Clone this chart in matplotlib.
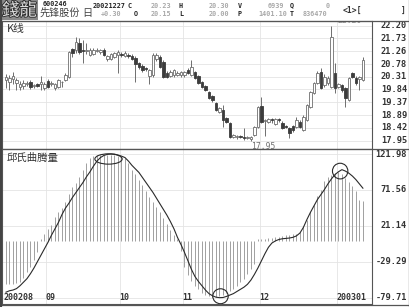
import matplotlib
matplotlib.use('Agg')
import matplotlib.pyplot as plt
from matplotlib.patches import Ellipse, Rectangle
from matplotlib.lines import Line2D
import matplotlib.patheffects as pe
import numpy as np

# ---------------- data ----------------
opens = [20.19, 20.12, 20.23, 20.08, 19.93, 19.97, 20.06, 20.11, 19.97, 20.04,
         20.04, 19.89, 20.15, 20.06, 19.89, 19.93, 20.11, 20.19, 20.30, 21.33,
         21.30, 21.56, 21.30, 21.26, 21.11, 21.15, 21.28, 21.22, 21.30, 20.97,
         20.97, 21.04, 21.11, 21.15, 21.07, 21.11, 21.07, 21.00, 20.82, 20.71,
         20.63, 20.34, 20.37, 20.97, 21.04, 20.86, 20.45, 20.34, 20.37, 20.37,
         20.37, 20.37, 20.56, 20.37, 20.48, 20.34, 20.11, 19.97, 19.75, 19.60,
         19.34, 19.01, 19.08, 18.79, 18.60, 18.09, 18.09, 18.12, 18.09, 18.05,
         18.02, 18.16, 18.46, 19.23, 18.68, 18.64, 18.75, 18.57, 18.75, 18.60,
         18.49, 18.42, 18.49, 18.46, 18.64, 18.34, 18.71, 19.20, 19.71, 20.08,
         20.48, 20.00, 20.08, 19.93, 20.45, 19.93, 20.00, 19.89, 19.45, 20.45,
         20.26, 20.23, 20.19]
highs = [20.41, 20.37, 20.48, 20.26, 20.15, 20.19, 20.15, 20.19, 20.04, 20.08,
         20.34, 20.11, 20.22, 20.15, 20.08, 20.22, 20.15, 20.45, 21.26, 21.37,
         21.78, 21.74, 21.67, 21.56, 21.37, 21.37, 21.37, 21.33, 21.37, 21.11,
         21.19, 21.22, 21.30, 21.22, 21.26, 21.19, 21.15, 21.07, 20.86, 20.78,
         20.67, 20.60, 21.19, 21.19, 21.11, 20.93, 20.52, 20.56, 20.60, 20.52,
         20.52, 20.52, 20.63, 20.93, 20.52, 20.37, 20.15, 20.00, 19.79, 19.64,
         19.38, 19.20, 19.27, 18.82, 18.64, 18.20, 18.16, 18.16, 18.42, 18.12,
         18.12, 18.49, 19.24, 19.56, 18.75, 18.79, 18.79, 18.79, 18.79, 18.68,
         18.53, 18.46, 18.53, 18.82, 18.71, 18.90, 19.31, 19.79, 20.11, 20.52,
         20.63, 20.41, 20.34, 22.20, 20.82, 20.08, 20.04, 19.93, 20.30, 20.48,
         20.34, 20.34, 21.04]
lows = [19.89, 19.82, 20.04, 19.82, 19.82, 19.86, 19.97, 19.86, 19.89, 19.93,
        19.82, 19.82, 19.89, 19.97, 19.82, 19.89, 19.93, 20.15, 20.26, 21.04,
        21.19, 21.15, 20.82, 21.15, 21.07, 21.11, 21.22, 21.15, 21.07, 20.90,
        20.93, 21.00, 20.45, 21.04, 21.04, 21.00, 20.93, 20.11, 20.60, 20.48,
        20.52, 20.04, 20.30, 20.90, 20.63, 20.26, 20.26, 20.30, 20.30, 20.34,
        20.30, 20.30, 20.41, 20.34, 20.22, 20.04, 19.89, 19.79, 19.49, 19.38,
        19.05, 18.97, 18.46, 18.60, 18.05, 18.05, 18.02, 18.05, 17.98, 18.00,
        17.95, 18.12, 18.42, 18.60, 18.12, 18.60, 18.60, 18.53, 18.64, 18.38,
        18.42, 18.05, 18.27, 18.42, 18.42, 18.30, 18.68, 19.16, 19.68, 20.04,
        19.86, 19.93, 20.00, 19.89, 19.71, 19.89, 19.75, 19.20, 19.42, 20.26,
        20.00, 19.82, 20.15]
closes = [20.30, 20.26, 20.34, 20.19, 20.04, 20.08, 20.08, 19.93, 20.00, 19.97,
          20.11, 20.04, 19.93, 20.08, 20.04, 20.19, 20.13, 20.37, 21.22, 21.19,
          21.59, 21.22, 21.26, 21.30, 21.30, 21.30, 21.30, 21.30, 21.11, 21.07,
          21.15, 21.19, 21.22, 21.11, 21.19, 21.07, 20.97, 20.78, 20.67, 20.56,
          20.58, 20.56, 21.11, 21.11, 20.67, 20.30, 20.30, 20.48, 20.56, 20.45,
          20.48, 20.48, 20.45, 20.67, 20.26, 20.08, 19.93, 19.82, 19.53, 19.45,
          19.08, 19.16, 18.71, 18.64, 18.09, 18.16, 18.12, 18.09, 18.05, 18.07,
          18.09, 18.46, 19.20, 18.64, 18.71, 18.75, 18.71, 18.75, 18.71, 18.42,
          18.46, 18.23, 18.34, 18.71, 18.46, 18.82, 19.27, 19.75, 20.08, 20.45,
          19.89, 20.30, 20.26, 21.78, 19.89, 20.04, 19.82, 19.53, 20.26, 20.30,
          20.08, 20.30, 20.93]

hist = [-60, -60, -60, -59, -58, -52, -44, -36, -27, -15,
        3, 10, 16, 23, 33, 40, 46, 55, 66, 75,
        81, 89, 100, 110, 117, 119, 120, 121, 121, 121,
        121, 120, 119, 118, 116, 110, 100, 94, 86, 78,
        70, 62, 55, 48, 40, 32, 24, 15, 8, 2,
        -14, -36, -48, -56, -63, -68, -73, -76, -78, -79,
        -79, -78, -76, -73, -70, -67, -63, -58, -53, -46,
        -39, -32, 2, 3, 3, 4, 4, 5, 6, 7,
        8, 8, 9, 10, 13, 21, 30, 41, 51, 63,
        71, 84, 90, 93, 95, 97, 94, 88, 82, 77,
        70, 58, 56]
curve = [-72, -70, -69, -67, -63, -58, -53, -46, -38, -29,
         -20, -11, -2, 8, 17, 26, 37, 46, 53, 61,
         68, 75, 82, 90, 97, 105, 112, 117, 120, 121.5,
         121.98, 121.8, 120.5, 119, 117, 112, 106, 101, 96, 89,
         82, 75, 68, 60, 52, 44, 36, 27, 17, 5,
         -5, -16, -28, -40, -50, -57, -63, -69, -74, -77,
         -79, -79.71, -79.5, -78, -76, -74, -71, -68, -65, -61,
         -55, -47, -38, -28, -18, -9, -3, 0, 2, 3,
         3.5, 4, 5, 7, 11, 19, 30, 40, 49, 58,
         65, 72, 80, 87, 93, 97, 100, 98, 95, 91,
         86, 80, 74]

price_ticks = ['22.20', '21.73', '21.26', '20.78', '20.31', '19.84', '19.37', '18.89', '18.42', '17.95']
ind_ticks = ['121.98', '71.56', '21.14', '-29.29', '-79.71']
month_labels = ['200208', '09', '10', '11', '12', '200301']
month_starts = [0, 12, 33, 51, 73, 95]

# ---------------- figure ----------------
W, H = 410, 307
fig = plt.figure(figsize=(W / 100, H / 100), dpi=100)
fig.patch.set_facecolor('white')


def fx(x):
    return x / W


def fy(y):
    return 1 - y / H


CJK_SC = ['Noto Sans CJK SC', 'DejaVu Sans']
CJK_TC = ['Noto Sans CJK TC', 'DejaVu Sans']
MONO = 'DejaVu Sans Mono'
GRID = '#e4e4e4'
FRAME = '#555555'

ax1 = fig.add_axes([fx(2), fy(149), (372 - 2) / W, (149 - 20.5) / H])
ax2 = fig.add_axes([fx(2), fy(304), (372 - 2) / W, (304 - 149) / H])

n = len(opens)
idx = np.arange(n)
xlim = (-1.14, 104.6)

for ax in (ax1, ax2):
    ax.set_xlim(*xlim)
    ax.set_xticks([])
    ax.set_yticks([])
    for s in ax.spines.values():
        s.set_color(FRAME)
        s.set_linewidth(0.8)
    for m in month_starts[1:]:
        ax.axvline(m - 0.5, color=GRID, lw=0.6, zorder=0)

# ---- top: candlesticks ----
o = np.array(opens); h = np.array(highs); l = np.array(lows); c = np.array(closes)
up = c >= o
ax1.vlines(idx, l, h, color='#6e6e6e', lw=0.7, zorder=2)
body_h = np.where(np.abs(c - o) < 0.01, 0.012, np.abs(c - o))
body_b = np.minimum(o, c)
ax1.bar(idx[up], body_h[up], bottom=body_b[up], width=0.72,
        facecolor='white', edgecolor='#6e6e6e', lw=0.6, zorder=3)
ax1.bar(idx[~up], body_h[~up], bottom=body_b[~up], width=0.72,
        facecolor='#3c3c3c', edgecolor='#3c3c3c', lw=0.6, zorder=3)
ax1.set_ylim(17.64, 22.39)
pvals = [float(t) for t in price_ticks]
for v in pvals:
    ax1.axhline(v, color=GRID, lw=0.6, zorder=0)
ytr1 = ax1.get_yaxis_transform()
for v, t in zip(pvals, price_ticks):
    ax1.text(1.0946, v, t, transform=ytr1, ha='right', va='center',
             fontsize=6.2, fontweight='bold', family=MONO, color='#333333', clip_on=False)

imax = int(np.argmax(h)); imin = int(np.argmin(l))
ax1.annotate(f'{h[imax]:.2f}', xy=(imax, h[imax]), xytext=(4.5, 0.5), textcoords='offset points',
             ha='left', va='bottom', fontsize=5.8, family=MONO, color='#8a8a8a',
             annotation_clip=False, clip_on=True)
ax1.annotate(f'{l[imin]:.2f}', xy=(imin, l[imin]), xytext=(0, -1), textcoords='offset points',
             ha='left', va='top', fontsize=5.8, family=MONO, color='#707070')
ax1.text(0.012, 0.93, 'K线', transform=ax1.transAxes, ha='left', va='center',
         fontsize=7.8, family=CJK_SC, color='#333333')

# ---- bottom: indicator ----
ax2.set_ylim(-88.6, 129.0)
ivals = [float(t) for t in ind_ticks]
for v in ivals:
    ax2.axhline(v, color=GRID, lw=0.6, zorder=0)
ax2.vlines(idx, 0, hist, color='#a0a0a0', lw=0.7, zorder=2)
ax2.plot(idx, curve, color='#2a2a2a', lw=0.8, zorder=3)
ytr2 = ax2.get_yaxis_transform()
for v, t in zip(ivals, ind_ticks):
    ax2.text(1.0946, v, t, transform=ytr2, ha='right', va='center',
             fontsize=6.2, fontweight='bold', family=MONO, color='#333333', clip_on=False)

cv = np.array(curve)
kmax = int(np.argmax(cv[:60])); kmin = int(np.argmin(cv)); kmax2 = 60 + int(np.argmax(cv[60:]))
ax2.add_patch(Ellipse((kmax - 0.7, cv[kmax] - 7), 7.8, 14.5, fill=False, ec='#2a2a2a', lw=0.8, zorder=4))
ax2.add_patch(Ellipse((kmin + 0.3, cv[kmin] + 2), 4.4, 21, fill=False, ec='#2a2a2a', lw=0.8, zorder=4))
ax2.add_patch(Ellipse((kmax2 - 0.5, cv[kmax2] - 2), 4.4, 22, fill=False, ec='#2a2a2a', lw=0.8, zorder=4))

ax2.text(0.012, 0.94, '邱氏曲腾量', transform=ax2.transAxes, ha='left', va='center',
         fontsize=7.5, family=CJK_SC, color='#333333')
xtr2 = ax2.get_xaxis_transform()
for m, t in zip(month_starts, month_labels):
    ax2.text(m - 0.6, 0.04, t, transform=xtr2, ha='left', va='center',
             fontsize=6, fontweight='bold', family=MONO, color='#333333')

# ---- frame lines across the label column ----
for yy in (20.5, 149, 304.5):
    fig.add_artist(Line2D([fx(0), fx(410)], [fy(yy), fy(yy)], color=FRAME, lw=0.9))
fig.add_artist(Line2D([fx(409.3), fx(409.3)], [fy(0), fy(306)], color=FRAME, lw=0.9))
fig.add_artist(Line2D([fx(0.8), fx(0.8)], [fy(0), fy(307)], color='#444444', lw=1.6))

# ---- header ----
fig.add_artist(Rectangle((0, fy(20)), 38 / W, 20 / H, transform=fig.transFigure,
                         facecolor='#8a8a8a', edgecolor='none'))
fig.text(fx(19.5), fy(10.5), '錢龍', ha='center', va='center', fontsize=12.5,
         family=CJK_TC, color='#dcdcdc',
         path_effects=[pe.withStroke(linewidth=1.3, foreground='#2e2e2e')])
fig.text(fx(40), fy(13), '先锋股份', ha='left', va='center', fontsize=7.3,
         family=CJK_SC, color='#444444')
fig.text(fx(82), fy(13), '日', ha='left', va='center', fontsize=7.3,
         family=CJK_SC, color='#444444')

dark = dict(fontsize=4.9, fontweight='bold', family=MONO, color='#222222', va='center')
gray = dict(fontsize=4.9, fontweight='bold', family=MONO, color='#a8a8a8', va='center')
fig.text(fx(43), fy(4), '600246', ha='left', **dark)
fig.text(fx(93), fy(5.5), '20021227', ha='left', **dark)
fig.text(fx(128), fy(5.5), 'C', ha='left', **dark)
fig.text(fx(121), fy(14.5), '+0.30', ha='right', **gray)
fig.text(fx(134), fy(14.5), 'O', ha='left', **dark)
fig.text(fx(171), fy(5.5), '20.23', ha='right', **gray)
fig.text(fx(179), fy(5.5), 'H', ha='left', **dark)
fig.text(fx(171), fy(14.5), '20.15', ha='right', **gray)
fig.text(fx(179), fy(14.5), 'L', ha='left', **dark)
fig.text(fx(229), fy(5.5), '20.30', ha='right', **gray)
fig.text(fx(238), fy(5.5), 'V', ha='left', **dark)
fig.text(fx(229), fy(14.5), '20.00', ha='right', **gray)
fig.text(fx(238), fy(14.5), 'P', ha='left', **dark)
fig.text(fx(284), fy(5.5), '6939', ha='right', **gray)
fig.text(fx(290), fy(5.5), 'Q', ha='left', **dark)
fig.text(fx(287), fy(14.5), '1401.10', ha='right', **gray)
fig.text(fx(290), fy(14.5), 'T', ha='left', **dark)
fig.text(fx(330), fy(5.5), '0', ha='right', **gray)
fig.text(fx(327), fy(14.5), '836470', ha='right', **gray)
fig.text(fx(343), fy(10), '<1>[', ha='left', fontsize=5.8, fontweight='bold',
         family=MONO, color='#333333', va='center')
fig.text(fx(406), fy(10), ']', ha='right', fontsize=5.8, fontweight='bold',
         family=MONO, color='#333333', va='center')

fig.savefig('out.png', dpi=100, facecolor='white')
